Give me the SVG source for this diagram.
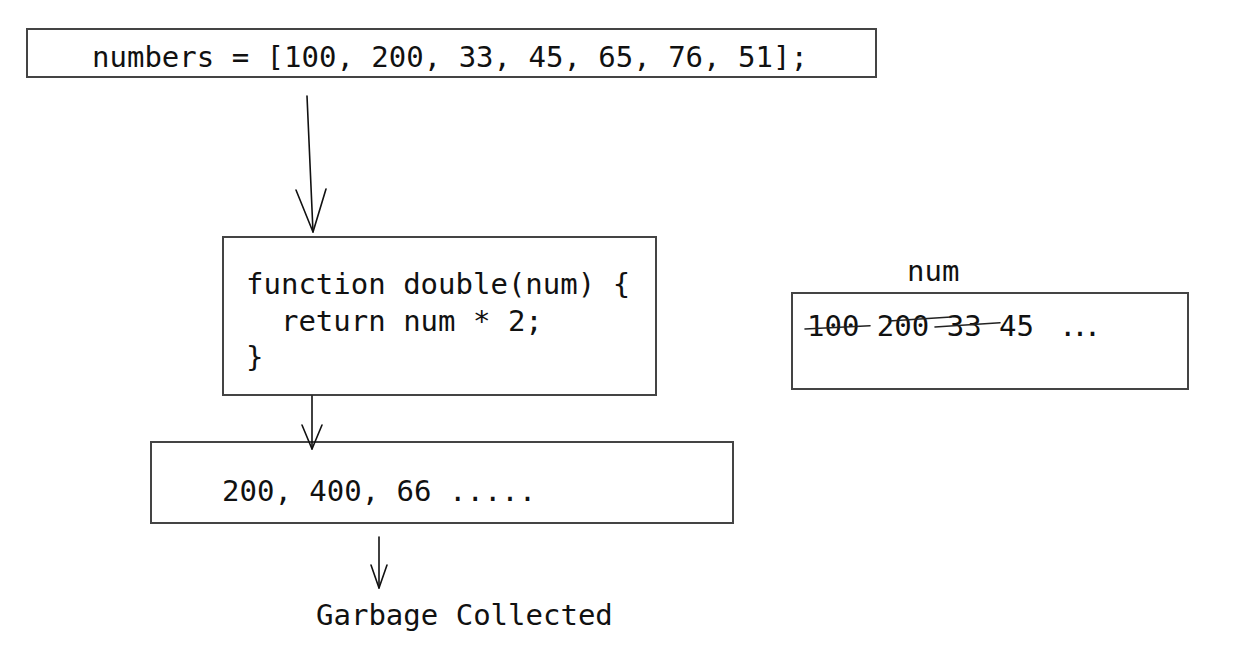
<svg xmlns="http://www.w3.org/2000/svg" width="1240" height="672" viewBox="0 0 1240 672" xml:space="preserve">
<style>
.box{fill:#fff;stroke:#444;stroke-width:2}
.t{font-family:"DejaVu Sans Mono","Liberation Mono",monospace;font-size:29px;fill:#111;white-space:pre}
.c{fill:none;stroke:#111;stroke-width:1.6;stroke-linecap:round;stroke-linejoin:round}
.s{fill:none;stroke:#222;stroke-width:1.6;stroke-linecap:round}
</style>
<rect width="1240" height="672" fill="#fff"/>
<g id="numbers">
<rect class="box" x="27" y="29" width="849" height="48"/>
<text class="t" x="92" y="67">numbers = [100, 200, 33, 45, 65, 76, 51];</text>
</g>
<g id="function">
<rect class="box" x="223" y="237" width="433" height="158"/>
<text class="t" x="246" y="294">function double(num) {</text>
<text class="t" x="246" y="331">  return num * 2;</text>
<text class="t" x="246" y="367">}</text>
</g>
<g id="results">
<rect class="box" x="151" y="442" width="582" height="81"/>
<text class="t" x="222" y="501">200, 400, 66 .....</text>
</g>
<g id="garbage">
<text class="t" x="316" y="625">Garbage Collected</text>
</g>
<g id="num">
<text class="t" x="907" y="281">num</text>
<rect class="box" x="792" y="293" width="396" height="96"/>
<text class="t" x="807" y="336">100 200 33 45<tspan letter-spacing="-5">  ...</tspan></text>
<path class="s" d="M805 329 L870 325.7"/>
<path class="s" d="M889 321 L951 317"/>
<path class="s" d="M935 327 L1000 322.7"/>
</g>
<g id="connectors">
<path class="c" d="M307 96 L313 232"/>
<path class="c" d="M296 190 L313 232 L326 189"/>
<path class="c" d="M312 396 L312 449"/>
<path class="c" d="M302 425 L312 449 L322 425"/>
<path class="c" d="M379 537 L379 588"/>
<path class="c" d="M371 565 L379 588 L387 565"/>
</g>
</svg>
